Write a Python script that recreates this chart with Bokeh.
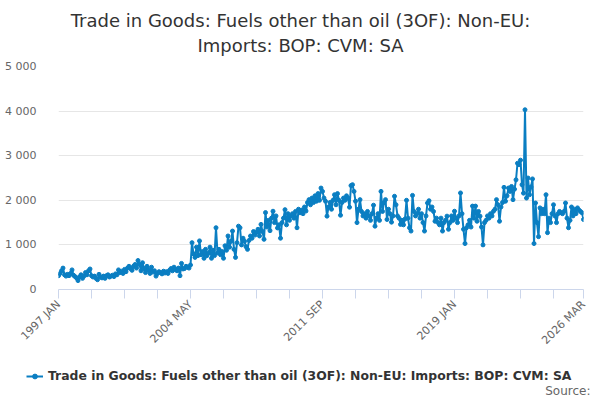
import math
from bokeh.plotting import figure
from bokeh.layouts import column
from bokeh.models import (ColumnDataSource, FixedTicker, Label, Legend, LegendItem, Range1d)
from bokeh.embed import file_html
from bokeh.resources import INLINE

# ---------------- data ----------------
start_year = 1997
month_names = ["JAN", "FEB", "MAR", "APR", "MAY", "JUN", "JUL", "AUG", "SEP", "OCT", "NOV", "DEC"]

v1997 = [310, 360, 420, 480, 330, 300, 340, 310, 360, 440, 320, 290]
v1998 = [260, 200, 280, 330, 250, 300, 380, 330, 420, 460, 310, 280]
v1999 = [300, 250, 220, 340, 280, 260, 300, 250, 310, 330, 280, 300]
v2000 = [320, 290, 350, 330, 440, 380, 410, 360, 450, 400, 480, 520]
v2001 = [470, 430, 520, 560, 480, 650, 560, 420, 600, 470, 380, 520]
v2002 = [440, 360, 500, 390, 420, 300, 360, 400, 380, 350, 410, 370]
v2003 = [400, 360, 430, 470, 420, 500, 450, 420, 480, 310, 585, 460]
v2004 = [470, 520, 500, 480, 550, 1050, 800, 720, 950, 760, 1090, 780]
v2005 = [850, 700, 900, 760, 820, 950, 700, 880, 760, 1385, 820, 900]
v2006 = [780, 850, 700, 980, 880, 1200, 950, 1080, 1310, 900, 720, 1050]
v2007 = [1420, 1385, 1000, 1150, 1080, 960, 900, 1100, 1200, 1150, 1300, 1220]
v2008 = [1280, 1350, 1200, 1460, 1300, 1125, 1725, 1400, 1550, 1320, 1600, 1755]
v2009 = [1500, 1650, 1380, 1450, 1150, 1500, 1600, 1790, 1450, 1700, 1550, 1650]
v2010 = [1700, 1600, 1750, 1385, 1800, 1720, 1780, 1700, 1850, 1760, 1950, 2015]
v2011 = [1900, 2050, 1950, 2100, 1980, 2150, 2000, 2275, 2200, 2050, 1980, 1645]
v2012 = [1850, 1950, 1800, 2000, 2125, 1900, 2150, 2000, 1665, 1950, 2050, 2000]
v2013 = [2100, 2050, 1845, 2330, 2350, 2200, 1980, 1500, 1800, 2015, 1750, 1650]
v2014 = [1700, 1600, 1750, 1650, 1550, 1700, 1890, 1420, 1600, 1700, 1550, 2200]
v2015 = [1750, 1950, 2015, 1570, 1800, 1700, 1510, 1650, 2090, 1900, 1650, 1600]
v2016 = [1460, 1550, 1450, 1580, 2000, 1600, 1385, 1310, 2110, 1750, 1650, 1700]
v2017 = [1800, 1600, 1700, 1500, 1310, 1650, 1940, 1990, 1800, 1850, 1750, 1530]
v2018 = [1600, 1500, 1450, 1600, 1310, 1500, 1550, 1645, 1350, 1500, 1650, 1550]
v2019 = [1755, 1600, 1500, 1650, 2165, 1700, 1350, 1030, 1385, 1450, 1550, 1400]
v2020 = [1870, 1600, 1870, 1530, 1750, 1645, 1400, 1000, 1500, 1550, 1650, 1600]
v2021 = [1700, 1650, 1755, 1800, 2015, 1900, 1530, 1850, 1950, 2290, 1980, 2100]
v2022 = [2275, 2200, 2310, 2015, 2250, 2460, 2830, 2800, 2900, 2350, 2160, 4030]
v2023 = [2050, 2500, 2125, 2300, 2480, 1030, 1940, 1500, 1185, 1830, 1700, 1800]
v2024 = [1700, 2125, 1275, 1600, 1500, 1700, 1900, 1650, 1500, 1700, 1750, 1720]
v2025 = [1700, 1750, 1940, 1600, 1385, 1550, 1850, 1650, 1800, 1700, 1830, 1780]
v2026 = [1750, 1720, 1570]

yearly = [v1997, v1998, v1999, v2000, v2001, v2002, v2003, v2004, v2005, v2006,
          v2007, v2008, v2009, v2010, v2011, v2012, v2013, v2014, v2015, v2016,
          v2017, v2018, v2019, v2020, v2021, v2022, v2023, v2024, v2025, v2026]

values = [v for yr in yearly for v in yr]
labels = []
for i, yr in enumerate(yearly):
    for j in range(len(yr)):
        labels.append(f"{start_year + i} {month_names[j]}")
idx = list(range(len(values)))

y_ticks = [0, 1000, 2000, 3000, 4000, 5000]
y_tick_labels = ["0", "1 000", "2 000", "3 000", "4 000", "5 000"]
x_tick_step = 22
x_label_every = 4

series_name = "Trade in Goods: Fuels other than oil (3OF): Non-EU: Imports: BOP: CVM: SA"
title_line1 = "Trade in Goods: Fuels other than oil (3OF): Non-EU:"
title_line2 = "Imports: BOP: CVM: SA"
source_text = "Source:"

# ---------------- layout constants ----------------
FONT = "DejaVu Sans"
COLOR = "#0a7ec2"
W = 598
BL, BR = 58, 15
H0, H1, H2 = 58, 296, 44

src = ColumnDataSource(dict(x=idx, y=values, label=labels))


def bare(height, bl, br):
    f = figure(width=W, height=height, output_backend="svg", toolbar_location=None,
               title=None, x_range=Range1d(0, 1), y_range=Range1d(0, 1),
               min_border_left=bl, min_border_right=br, min_border_top=0, min_border_bottom=0,
               x_axis_type=None, y_axis_type=None)
    f.grid.grid_line_color = None
    f.outline_line_color = None
    return f


# ---------------- title strip ----------------
p0 = bare(H0, BL, BR)
for txt, ypos in ((title_line1, H0 - 20), (title_line2, H0 - 45)):
    p0.add_layout(Label(x=300 - BL, y=ypos, x_units="screen", y_units="screen", text=txt,
                        text_align="center", text_baseline="middle", text_font=FONT,
                        text_font_size="18px", text_color="#333333"))

# ---------------- main chart ----------------
p = figure(width=W, height=H1, output_backend="svg", toolbar_location=None, title=None,
           x_range=Range1d(0, len(values) - 1), y_range=Range1d(0, 5000),
           min_border_left=BL, min_border_right=BR, min_border_top=8, min_border_bottom=62)

line = p.line("x", "y", source=src, line_color=COLOR, line_width=2)
pts = p.scatter("x", "y", source=src, size=4, fill_color=COLOR, line_color=COLOR)

last = len(values) - 1
xt = list(range(0, last - 10, x_tick_step)) + [last]
overrides = {}
for k, t in enumerate(xt):
    overrides[t] = labels[t] if (k % x_label_every == 0 or t == last) else ""
xa = p.xaxis[0]
xa.ticker = FixedTicker(ticks=xt)
xa.major_label_overrides = overrides
xa.major_label_orientation = math.pi / 4
xa.major_label_text_font = FONT
xa.major_label_text_font_size = "11px"
xa.major_label_text_color = "#666666"
xa.axis_line_color = "#ccd6eb"
xa.major_tick_line_color = "#ccd6eb"
xa.major_tick_in = 0
xa.major_tick_out = 9
xa.minor_tick_line_color = None
xa.major_label_standoff = 4

ya = p.yaxis[0]
ya.ticker = FixedTicker(ticks=y_ticks)
ya.major_label_overrides = {t: l for t, l in zip(y_ticks, y_tick_labels)}
ya.major_label_text_font = FONT
ya.major_label_text_font_size = "11px"
ya.major_label_text_color = "#666666"
ya.axis_line_color = None
ya.major_tick_line_color = None
ya.minor_tick_line_color = None
ya.major_label_standoff = 16

p.xgrid.grid_line_color = None
p.ygrid.grid_line_color = "#e6e6e6"
p.ygrid.ticker = FixedTicker(ticks=y_ticks)
p.outline_line_color = None

# ---------------- legend strip (frame spans the whole strip) ----------------
p2 = bare(H2, 0, 0)
p2.frame_align = False
kl = p2.line("x", "y", source=src, line_color=COLOR, line_width=2, visible=False)
ks = p2.scatter("x", "y", source=src, size=4, fill_color=COLOR, line_color=COLOR, visible=False)

legend = Legend(items=[LegendItem(label=series_name, renderers=[kl, ks])],
                location=(26, 15), orientation="horizontal",
                label_text_font=FONT, label_text_font_size="12.4px",
                label_text_font_style="bold", label_text_color="#333333",
                glyph_width=17, glyph_height=12, label_standoff=5,
                border_line_color=None, background_fill_alpha=0,
                inactive_fill_alpha=0, padding=2, margin=0, spacing=0)
p2.add_layout(legend)
p2.add_layout(Label(x=590, y=8, x_units="screen", y_units="screen", text=source_text,
                    text_align="right", text_baseline="middle", text_font=FONT,
                    text_font_size="12px", text_color="#666666"))

open("out.html", "w").write(file_html(column(p0, p, p2, spacing=0), INLINE))
